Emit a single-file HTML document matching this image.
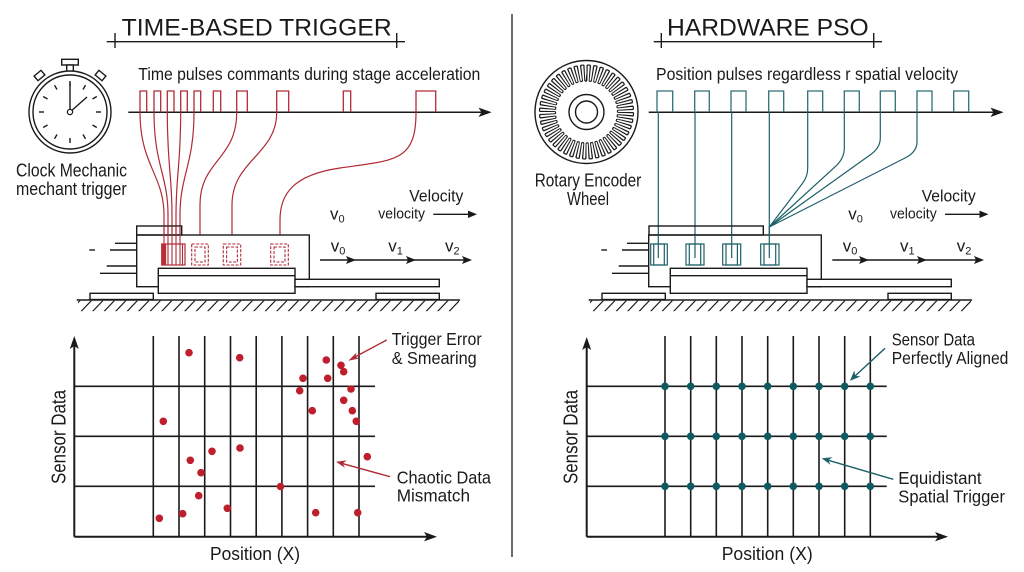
<!DOCTYPE html>
<html><head><meta charset="utf-8"><style>
html,body{margin:0;padding:0;background:#fff;}
svg{display:block;}
text{font-family:"Liberation Sans Narrow","Liberation Sans",sans-serif;fill:#1a1a1a;}
</style></head><body>
<svg width="1024" height="572" viewBox="0 0 1024 572" xmlns="http://www.w3.org/2000/svg">
<defs>
<pattern id="hatch" patternUnits="userSpaceOnUse" width="11.5" height="11" x="0" y="300.5">
<line x1="11" y1="0" x2="0.5" y2="11" stroke="#1a1a1a" stroke-width="1.2"/>
</pattern>
<g id="stage" fill="#fff" stroke="#1a1a1a" stroke-width="1.4">
<line x1="115" y1="243.3" x2="136.7" y2="243.3"/>
<line x1="89.3" y1="250" x2="95" y2="250"/>
<line x1="110" y1="250" x2="136.7" y2="250"/>
<line x1="106.7" y1="266" x2="136.7" y2="266"/>
<line x1="100" y1="273.3" x2="136.7" y2="273.3"/>
<rect x="136.7" y="235" width="172.6" height="51.7"/>
<rect x="158.3" y="268.3" width="136.7" height="25"/>
<line x1="158.3" y1="275.7" x2="295" y2="275.7"/>
<rect x="295" y="279.3" width="144.3" height="7.4"/>
<rect x="90" y="293.3" width="63.3" height="6.2"/>
<rect x="376" y="293.3" width="63.3" height="6.2"/>
<line x1="76.7" y1="300" x2="460" y2="300"/>
<rect x="78" y="300.7" width="381" height="10.5" fill="url(#hatch)" stroke="none"/>
</g>
</defs>

<!-- divider -->
<line x1="512" y1="14" x2="512" y2="557" stroke="#3a3a3a" stroke-width="1.5"/>

<!-- ================= LEFT ================= -->
<text x="121.7" y="35.7" font-size="24" textLength="270" lengthAdjust="spacingAndGlyphs">TIME-BASED TRIGGER</text>
<g stroke="#1a1a1a" stroke-width="1.4">
<line x1="106.7" y1="41.7" x2="405" y2="41.7"/>
<line x1="115" y1="33" x2="115" y2="48"/>
<line x1="396.7" y1="33" x2="396.7" y2="48"/>
</g>

<!-- clock -->
<g fill="#fff" stroke="#1a1a1a" stroke-width="1.4">
<rect x="61.7" y="59.3" width="16.6" height="5.7"/>
<rect x="66.7" y="65" width="6.6" height="6.5"/>
<rect x="35" y="72.5" width="9" height="6" transform="rotate(-40 39.5 75.5)"/>
<rect x="96" y="72.5" width="9" height="6" transform="rotate(40 100.5 75.5)"/>
<circle cx="70" cy="112" r="41"/>
<circle cx="70" cy="112" r="37"/>
</g>
<g stroke="#1a1a1a" stroke-width="1.4">
<line x1="70" y1="86" x2="70" y2="81"/>
<line x1="83" y1="89.5" x2="85.5" y2="85.2"/>
<line x1="92.5" y1="99" x2="96.8" y2="96.5"/>
<line x1="96" y1="112" x2="101" y2="112"/>
<line x1="92.5" y1="125" x2="96.8" y2="127.5"/>
<line x1="83" y1="134.5" x2="85.5" y2="138.8"/>
<line x1="70" y1="138" x2="70" y2="143"/>
<line x1="57" y1="134.5" x2="54.5" y2="138.8"/>
<line x1="47.5" y1="125" x2="43.2" y2="127.5"/>
<line x1="44" y1="112" x2="39" y2="112"/>
<line x1="47.5" y1="99" x2="43.2" y2="96.5"/>
<line x1="57" y1="89.5" x2="54.5" y2="85.2"/>
<line x1="70" y1="112" x2="70" y2="83"/>
<line x1="70" y1="112" x2="87" y2="97"/>
</g>
<circle cx="70" cy="112" r="2.6" fill="#fff" stroke="#1a1a1a" stroke-width="1.3"/>
<text x="16" y="176.7" font-size="18.5" textLength="111" lengthAdjust="spacingAndGlyphs">Clock Mechanic</text>
<text x="16" y="195" font-size="18.5" textLength="110.7" lengthAdjust="spacingAndGlyphs">mechant trigger</text>

<text x="138.3" y="80" font-size="17.5" textLength="342" lengthAdjust="spacingAndGlyphs">Time pulses commants during stage acceleration</text>

<!-- pulse axis -->
<line x1="128.3" y1="112.3" x2="486" y2="112.3" stroke="#1a1a1a" stroke-width="1.5"/>
<path d="M491.7,112.3 L478.5,107.6 L481.5,112.3 L478.5,117 Z" fill="#1a1a1a"/>
<path fill="none" stroke="#b02a36" stroke-width="1.3" d="
M140,112.3V91H146.7V112.3 M154,112.3V91H160.7V112.3 M167.3,112.3V91H174V112.3 M180.7,112.3V91H187.3V112.3 M194,112.3V91H200.7V112.3
M213.3,112.3V91H220.7V112.3 M236.7,112.3V91H247.3V112.3 M276.7,112.3V91H288.7V112.3 M343.3,112.3V91H350.7V112.3 M416,112.3V91H435.7V112.3"/>
<!-- red curves -->
<g fill="none" stroke="#b02a36" stroke-width="1.2">
<path d="M140,112.3 C140,165 164,175 164,215 L164,265"/>
<path d="M154,112.3 C154,165 168,175 168,215 L168,265"/>
<path d="M167.3,112.3 C167.3,165 172,175 172,215 L172,265"/>
<path d="M180.7,112.3 C180.7,165 176,175 176,215 L176,265"/>
<path d="M194,112.3 C194,165 180,175 180,215 L180,265"/>
<path d="M236.7,112.3 C236.7,160 200,160 200,205 L200,244"/>
<path d="M276.7,112.3 C276.7,155 232,160 232,205 L232,244"/>
<path d="M416,112.3 C416,162 395,160 340,168 C292,175 280,195 280,220 L280,244"/>
</g>

<!-- left stage -->
<use href="#stage"/>
<rect x="136.7" y="226" width="45" height="9" fill="none" stroke="#1a1a1a" stroke-width="1.4"/>
<!-- cluster sensor -->
<rect x="161.7" y="244" width="23.3" height="21" fill="#fff" stroke="#b02a36" stroke-width="1.2"/>
<rect x="161.7" y="244" width="4.5" height="21" fill="#c0303c"/>
<g stroke="#b02a36" stroke-width="1.1">
<line x1="164" y1="226" x2="164" y2="265"/><line x1="168" y1="226" x2="168" y2="265"/>
<line x1="172" y1="226" x2="172" y2="265"/><line x1="176" y1="226" x2="176" y2="265"/>
<line x1="180" y1="226" x2="180" y2="265"/><line x1="182.5" y1="244" x2="182.5" y2="265"/>
</g>
<!-- dashed sensors -->
<g fill="none" stroke="#b02a36" stroke-width="1.1" stroke-dasharray="3 1.5">
<rect x="191.7" y="244" width="16.6" height="21"/><rect x="195" y="247" width="10" height="15"/>
<rect x="223.3" y="244" width="17.4" height="21"/><rect x="226.6" y="247" width="10.8" height="15"/>
<rect x="270.7" y="244" width="17.6" height="21"/><rect x="274" y="247" width="11" height="15"/>
</g>

<!-- velocity labels left -->
<text x="409.3" y="201.7" font-size="17" textLength="54" lengthAdjust="spacingAndGlyphs">Velocity</text>
<text x="378.3" y="218.3" font-size="14.5" textLength="46.7" lengthAdjust="spacingAndGlyphs">velocity</text>
<line x1="433.3" y1="214.3" x2="470" y2="214.3" stroke="#1a1a1a" stroke-width="1.4"/>
<path d="M477,214.3 L468,210.6 L468,218 Z" fill="#1a1a1a"/>
<text x="330" y="219.3" font-size="17">v<tspan font-size="11" dy="3">0</tspan></text>
<text x="330.7" y="251.7" font-size="17">v<tspan font-size="11" dy="3">0</tspan></text>
<text x="388.3" y="251.7" font-size="17">v<tspan font-size="11" dy="3">1</tspan></text>
<text x="445" y="251.7" font-size="17">v<tspan font-size="11" dy="3">2</tspan></text>
<line x1="320" y1="260" x2="466" y2="260" stroke="#1a1a1a" stroke-width="1.4"/>
<path d="M356,260 L346,256 L348,260 L346,264 Z M416,260 L406,256 L408,260 L406,264 Z M472,260 L462,256 L464,260 L462,264 Z" fill="#1a1a1a"/>

<!-- left chart -->
<g stroke="#1a1a1a" stroke-width="1.6">
<line x1="153.3" y1="336" x2="153.3" y2="536.7"/><line x1="179" y1="336" x2="179" y2="536.7"/>
<line x1="204.7" y1="336" x2="204.7" y2="536.7"/><line x1="230.5" y1="336" x2="230.5" y2="536.7"/>
<line x1="256.2" y1="336" x2="256.2" y2="536.7"/><line x1="281.9" y1="336" x2="281.9" y2="536.7"/>
<line x1="307.6" y1="336" x2="307.6" y2="536.7"/><line x1="333.3" y1="336" x2="333.3" y2="536.7"/>
<line x1="359" y1="336" x2="359" y2="536.7"/>
<line x1="74.3" y1="386.3" x2="375" y2="386.3"/><line x1="74.3" y1="436.3" x2="375" y2="436.3"/>
<line x1="74.3" y1="486.3" x2="375" y2="486.3"/>
<line x1="74.3" y1="343" x2="74.3" y2="536.7" stroke-width="2"/>
<line x1="74.3" y1="536.7" x2="430" y2="536.7" stroke-width="2"/>
</g>
<path d="M74.3,336 L69.8,349 L74.3,346 L78.8,349 Z" fill="#1a1a1a"/>
<path d="M437,536.7 L424,532 L427,536.7 L424,541.4 Z" fill="#1a1a1a"/>
<g fill="#bf1f2c">
<circle cx="189" cy="352.7" r="3.8"/><circle cx="239.7" cy="357.7" r="3.8"/>
<circle cx="163.3" cy="421.3" r="3.8"/><circle cx="212" cy="451.3" r="3.8"/>
<circle cx="240" cy="448" r="3.8"/><circle cx="190.3" cy="460.3" r="3.8"/>
<circle cx="201" cy="472.7" r="3.8"/><circle cx="198.7" cy="495.7" r="3.8"/>
<circle cx="227.3" cy="508.3" r="3.8"/><circle cx="182.7" cy="513.7" r="3.8"/>
<circle cx="159.3" cy="518.3" r="3.8"/><circle cx="280.5" cy="486.5" r="3.8"/>
<circle cx="326.3" cy="360" r="3.8"/><circle cx="341" cy="365.3" r="3.8"/>
<circle cx="343.7" cy="371.7" r="3.8"/><circle cx="303" cy="378.3" r="3.8"/>
<circle cx="327.7" cy="378.3" r="3.8"/><circle cx="299.7" cy="390.7" r="3.8"/>
<circle cx="351" cy="389" r="3.8"/><circle cx="343.7" cy="400.3" r="3.8"/>
<circle cx="312.3" cy="410.7" r="3.8"/><circle cx="352.3" cy="410.7" r="3.8"/>
<circle cx="356.3" cy="421.3" r="3.8"/><circle cx="367.3" cy="456.7" r="3.8"/>
<circle cx="315.7" cy="512.7" r="3.8"/><circle cx="357.7" cy="512.7" r="3.8"/>
</g>
<!-- annotations left -->
<line x1="386.7" y1="340" x2="354" y2="357.5" stroke="#b02a36" stroke-width="1.4"/>
<path d="M348.3,360.7 L356.5,352.6 L355.2,357 L359.6,358.4 Z" fill="#b02a36"/>
<line x1="390" y1="476.7" x2="342" y2="463.4" stroke="#b02a36" stroke-width="1.4"/>
<path d="M336,461.7 L346.8,460.4 L342.6,463.5 L345,467.9 Z" fill="#b02a36"/>
<text x="391.7" y="345" font-size="17.5" textLength="90" lengthAdjust="spacingAndGlyphs">Trigger Error</text>
<text x="391.7" y="364" font-size="17.5" textLength="85" lengthAdjust="spacingAndGlyphs">&amp; Smearing</text>
<text x="396.7" y="483.3" font-size="17.5" textLength="94.3" lengthAdjust="spacingAndGlyphs">Chaotic Data</text>
<text x="396.7" y="501.7" font-size="17.5" textLength="73.3" lengthAdjust="spacingAndGlyphs">Mismatch</text>
<text transform="translate(65.7,437) rotate(-90)" text-anchor="middle" font-size="20" textLength="94" lengthAdjust="spacingAndGlyphs">Sensor Data</text>
<text x="210" y="560" font-size="18.5" textLength="90" lengthAdjust="spacingAndGlyphs">Position (X)</text>

<!-- ================= RIGHT ================= -->
<text x="667" y="35.7" font-size="24" textLength="201.7" lengthAdjust="spacingAndGlyphs">HARDWARE PSO</text>
<g stroke="#1a1a1a" stroke-width="1.4">
<line x1="653.7" y1="41.7" x2="882" y2="41.7"/>
<line x1="661.3" y1="33" x2="661.3" y2="48"/>
<line x1="873.7" y1="33" x2="873.7" y2="48"/>
</g>

<!-- encoder wheel -->
<g fill="none" stroke="#1a1a1a">
<circle cx="586.5" cy="112" r="51.5" stroke-width="1.4"/>
<circle cx="586.5" cy="112" r="39" stroke-width="16" pathLength="880" stroke-dasharray="3.95 6.05"/>
<circle cx="586.5" cy="112" r="47" stroke-width="1.2" pathLength="880" stroke-dasharray="10 10" stroke-dashoffset="-1.975"/>
<circle cx="586.5" cy="112" r="31" stroke-width="1.2" pathLength="880" stroke-dasharray="10 10" stroke-dashoffset="-11.975"/>
<circle cx="586.5" cy="112" r="17.5" stroke-width="1.4"/>
<circle cx="586.5" cy="112" r="11" stroke-width="1.4"/>
</g>
<text x="534.7" y="186.7" font-size="18.5" textLength="106.6" lengthAdjust="spacingAndGlyphs">Rotary Encoder</text>
<text x="588" y="205" font-size="18.5" text-anchor="middle" textLength="42" lengthAdjust="spacingAndGlyphs">Wheel</text>

<text x="656" y="80" font-size="17.5" textLength="302" lengthAdjust="spacingAndGlyphs">Position pulses regardless r spatial velocity</text>

<line x1="648.7" y1="112.3" x2="998" y2="112.3" stroke="#1a1a1a" stroke-width="1.5"/>
<path d="M1003.7,112.3 L990.5,107.6 L993.5,112.3 L990.5,117 Z" fill="#1a1a1a"/>
<path fill="none" stroke="#2f6f77" stroke-width="1.3" d="
M657,112.3V91H672.7V112.3 M694.7,112.3V91H709.3V112.3 M731,112.3V91H746V112.3 M768.7,112.3V91H783.7V112.3
M807.7,112.3V91H822.7V112.3 M844.3,112.3V91H859.3V112.3 M880.3,112.3V91H895.3V112.3 M917,112.3V91H932V112.3 M953.7,112.3V91H968.7V112.3"/>
<g fill="none" stroke="#1d6068" stroke-width="1.2">
<line x1="658.3" y1="112.3" x2="658.3" y2="258"/>
<line x1="695" y1="112.3" x2="695" y2="258"/>
<line x1="731.7" y1="112.3" x2="731.7" y2="258"/>
<line x1="769.3" y1="112.3" x2="769.3" y2="258"/>
<path d="M807.7,112.3 L807.7,168 Q807.7,177 802,184 L769.3,227"/>
<path d="M844.3,112.3 L844.3,148 Q844.3,158 836,166 L769.3,227"/>
<path d="M880.3,112.3 L880.3,138 Q880.3,148 870,155 L769.3,227"/>
<path d="M917,112.3 L917,142 Q917,152 905,158 L769.3,227"/>
</g>

<!-- right stage -->
<use href="#stage" transform="translate(512,0)"/>
<rect x="649" y="226" width="114.3" height="9" fill="none" stroke="#1a1a1a" stroke-width="1.4"/>
<g fill="none" stroke="#1d6068" stroke-width="1.2">
<rect x="650.7" y="244" width="16.6" height="21"/><rect x="653.7" y="244" width="10.6" height="21"/>
<rect x="686" y="244" width="18" height="21"/><rect x="689.3" y="244" width="11.4" height="21"/>
<rect x="722.7" y="244" width="18" height="21"/><rect x="726" y="244" width="11.4" height="21"/>
<rect x="760.7" y="244" width="18.3" height="21"/><rect x="764" y="244" width="11.7" height="21"/>
</g>
<g fill="none" stroke="#1d6068" stroke-width="1.2">
<line x1="658.3" y1="235" x2="658.3" y2="258"/>
<line x1="695" y1="235" x2="695" y2="258"/>
<line x1="731.7" y1="235" x2="731.7" y2="258"/>
<line x1="769.3" y1="226" x2="769.3" y2="258"/>
</g>

<text x="921.7" y="201.7" font-size="17" textLength="54" lengthAdjust="spacingAndGlyphs">Velocity</text>
<text x="890" y="218.3" font-size="14.5" textLength="46.7" lengthAdjust="spacingAndGlyphs">velocity</text>
<line x1="945" y1="214.3" x2="982" y2="214.3" stroke="#1a1a1a" stroke-width="1.4"/>
<path d="M988.5,214.3 L979.5,210.6 L979.5,218 Z" fill="#1a1a1a"/>
<text x="848.3" y="219.3" font-size="17">v<tspan font-size="11" dy="3">0</tspan></text>
<text x="842.7" y="251.7" font-size="17">v<tspan font-size="11" dy="3">0</tspan></text>
<text x="900" y="251.7" font-size="17">v<tspan font-size="11" dy="3">1</tspan></text>
<text x="956.7" y="251.7" font-size="17">v<tspan font-size="11" dy="3">2</tspan></text>
<line x1="832.3" y1="260" x2="978" y2="260" stroke="#1a1a1a" stroke-width="1.4"/>
<path d="M869,260 L859,256 L861,260 L859,264 Z M927,260 L917,256 L919,260 L917,264 Z M984,260 L974,256 L976,260 L974,264 Z" fill="#1a1a1a"/>

<!-- right chart -->
<g stroke="#1a1a1a" stroke-width="1.6">
<line x1="665" y1="336" x2="665" y2="536.7"/><line x1="690.7" y1="336" x2="690.7" y2="536.7"/>
<line x1="716.3" y1="336" x2="716.3" y2="536.7"/><line x1="742" y1="336" x2="742" y2="536.7"/>
<line x1="767.7" y1="336" x2="767.7" y2="536.7"/><line x1="793.3" y1="336" x2="793.3" y2="536.7"/>
<line x1="819" y1="336" x2="819" y2="536.7"/><line x1="844.7" y1="336" x2="844.7" y2="536.7"/>
<line x1="870.3" y1="336" x2="870.3" y2="536.7"/>
<line x1="586.7" y1="386.3" x2="886.7" y2="386.3"/><line x1="586.7" y1="436.3" x2="886.7" y2="436.3"/>
<line x1="586.7" y1="486.3" x2="886.7" y2="486.3"/>
<line x1="586.7" y1="344" x2="586.7" y2="536.7" stroke-width="2"/>
<line x1="586.7" y1="536.7" x2="941" y2="536.7" stroke-width="2"/>
</g>
<path d="M586.7,337 L582.2,350 L586.7,347 L591.2,350 Z" fill="#1a1a1a"/>
<path d="M948,536.7 L935,532 L938,536.7 L935,541.4 Z" fill="#1a1a1a"/>
<g fill="#0f5a60">
<circle cx="665" cy="386.3" r="3.8"/><circle cx="690.7" cy="386.3" r="3.8"/><circle cx="716.3" cy="386.3" r="3.8"/><circle cx="742" cy="386.3" r="3.8"/><circle cx="767.7" cy="386.3" r="3.8"/><circle cx="793.3" cy="386.3" r="3.8"/><circle cx="819" cy="386.3" r="3.8"/><circle cx="844.7" cy="386.3" r="3.8"/><circle cx="870.3" cy="386.3" r="3.8"/>
<circle cx="665" cy="436.3" r="3.8"/><circle cx="690.7" cy="436.3" r="3.8"/><circle cx="716.3" cy="436.3" r="3.8"/><circle cx="742" cy="436.3" r="3.8"/><circle cx="767.7" cy="436.3" r="3.8"/><circle cx="793.3" cy="436.3" r="3.8"/><circle cx="819" cy="436.3" r="3.8"/><circle cx="844.7" cy="436.3" r="3.8"/><circle cx="870.3" cy="436.3" r="3.8"/>
<circle cx="665" cy="486.3" r="3.8"/><circle cx="690.7" cy="486.3" r="3.8"/><circle cx="716.3" cy="486.3" r="3.8"/><circle cx="742" cy="486.3" r="3.8"/><circle cx="767.7" cy="486.3" r="3.8"/><circle cx="793.3" cy="486.3" r="3.8"/><circle cx="819" cy="486.3" r="3.8"/><circle cx="844.7" cy="486.3" r="3.8"/><circle cx="870.3" cy="486.3" r="3.8"/>
</g>
<line x1="885" y1="348.3" x2="854.5" y2="376.5" stroke="#1d6068" stroke-width="1.4"/>
<path d="M850,380.7 L854.3,370.5 L855.2,375.7 L860.5,376.5 Z" fill="#1d6068"/>
<line x1="893.3" y1="479.3" x2="828" y2="460.2" stroke="#1d6068" stroke-width="1.4"/>
<path d="M821.7,458.3 L832.5,457.2 L828.3,460.3 L830.6,464.9 Z" fill="#1d6068"/>
<text x="891.7" y="345.5" font-size="17.5" textLength="83.3" lengthAdjust="spacingAndGlyphs">Sensor Data</text>
<text x="891.7" y="364" font-size="17.5" textLength="116.7" lengthAdjust="spacingAndGlyphs">Perfectly Aligned</text>
<text x="898.3" y="484" font-size="17.5" textLength="83.3" lengthAdjust="spacingAndGlyphs">Equidistant</text>
<text x="898.3" y="502.3" font-size="17.5" textLength="106.7" lengthAdjust="spacingAndGlyphs">Spatial Trigger</text>
<text transform="translate(577.3,437) rotate(-90)" text-anchor="middle" font-size="20" textLength="94" lengthAdjust="spacingAndGlyphs">Sensor Data</text>
<text x="721.7" y="560" font-size="18.5" textLength="91" lengthAdjust="spacingAndGlyphs">Position (X)</text>
</svg>
</body></html>
